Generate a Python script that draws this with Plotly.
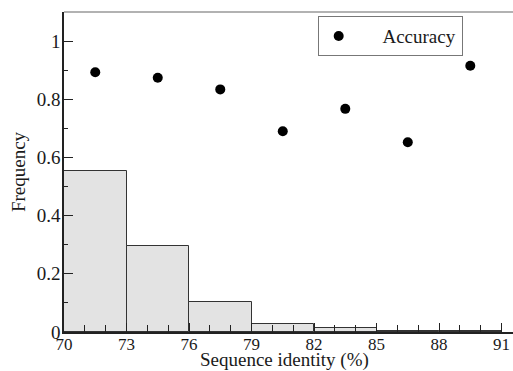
import plotly.graph_objects as go

bin_left = [70, 73, 76, 79, 82, 85, 88]
bin_width = [3, 3, 3, 3, 3, 3, 3]
frequency = [0.555, 0.295, 0.102, 0.028, 0.013, 0.004, 0.003]

acc_x = [71.5, 74.5, 77.5, 80.5, 83.5, 86.5, 89.5]
accuracy = [0.893, 0.874, 0.834, 0.690, 0.767, 0.652, 0.915]

x_ticks = [70, 73, 76, 79, 82, 85, 88, 91]
y_ticks = [0, 0.2, 0.4, 0.6, 0.8, 1]
y_labels = ["0", "0.2", "0.4", "0.6", "0.8", "1"]

font = "Liberation Serif, Times New Roman, serif"
fs = 19

fig = go.Figure()
fig.add_trace(go.Bar(
    x=[l + w / 2 for l, w in zip(bin_left, bin_width)],
    y=frequency, width=bin_width,
    marker=dict(color="#e3e3e3", line=dict(color="#333333", width=1)),
    showlegend=False,
))
fig.add_trace(go.Scatter(
    x=acc_x, y=accuracy, mode="markers",
    marker=dict(color="black", size=10),
    name="\u00a0" * 5 + "Accuracy",
))

fig.update_layout(
    width=513, height=371,
    margin=dict(l=64, r=0, t=12, b=39),
    plot_bgcolor="white", paper_bgcolor="white",
    font=dict(family=font, size=fs, color="#1a1a1a"),
    bargap=0,
    legend=dict(x=0.565, y=0.987, xanchor="left", yanchor="top",
                bordercolor="#777777", borderwidth=1, bgcolor="white",
                font=dict(family=font, size=fs, color="#1a1a1a"),
                itemwidth=30, tracegroupgap=0),
    xaxis=dict(range=[70, 91.55], tickvals=x_ticks, ticks="inside",
               ticklen=9, tickcolor="#222222", tickwidth=1,
               minor=dict(dtick=1, ticks="inside", ticklen=7, tickcolor="#222222"),
               showline=True, linecolor="#222222", linewidth=1.5,
               showgrid=False, zeroline=False, automargin=False,
               ticklabelstandoff=-4, tickfont=dict(size=17)),
    yaxis=dict(range=[0, 1.1], tickvals=y_ticks, ticktext=y_labels,
               ticks="inside", ticklen=9, tickcolor="#222222", tickwidth=1,
               minor=dict(dtick=0.1, ticks="inside", ticklen=4, tickcolor="#222222"),
               showline=True, linecolor="#222222", linewidth=1.5,
               showgrid=False, zeroline=False, automargin=False,
               ticklabelstandoff=-2,
               title=dict(text="Frequency", standoff=6,
                          font=dict(family=font, size=fs))),
    annotations=[dict(text="Sequence identity (%)", xref="paper", yref="paper",
                      x=0.49, y=-39 / 320, xanchor="center", yanchor="bottom",
                      yshift=-2, showarrow=False, font=dict(family=font, size=fs))],
    shapes=[dict(type="line", xref="paper", yref="paper", x0=0, x1=1, y0=1, y1=1,
                 line=dict(color="#999999", width=1.5))],
)

fig.write_html("out.html")
